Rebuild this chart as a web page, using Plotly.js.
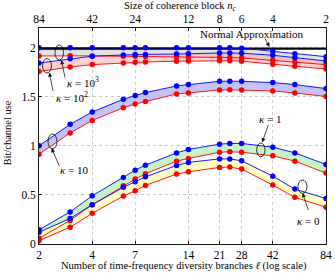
<!DOCTYPE html>
<html>
<head>
<meta charset="utf-8">
<script src="https://cdn.plot.ly/plotly-3.0.1.min.js"></script>
<style>html,body{margin:0;padding:0;background:#fff;}#chart{width:335px;height:273px;}</style>
</head>
<body>
<div id="chart"></div>
<script>
// number of diversity branches (x) and matching coherence block sizes
var ells = [2, 3, 4, 6, 7, 8, 12, 14, 21, 24, 28, 42, 56, 84];
var bottomTicks = [2, 4, 7, 14, 21, 28, 42, 84];
var bottomTickText = ['2', '4', '7', '14', '21', '28', '42', '84'];
var topTickText = ['84', '42', '24', '12', '8', '6', '4', '2'];

// upper (blue) and lower (red) bounds for each Rician factor kappa
var k1000Upper = [2.0, 2.0, 2.0, 2.0, 2.0, 2.0, 2.0, 2.0, 2.0, 2.0, 1.995, 1.962, 1.938, 1.908];
var k1000Lower = [1.915, 1.918, 1.916, 1.912, 1.911, 1.909, 1.905, 1.904, 1.9, 1.899, 1.895, 1.871, 1.853, 1.827];
var k100Upper = [1.843, 1.888, 1.913, 1.925, 1.929, 1.931, 1.935, 1.939, 1.945, 1.945, 1.943, 1.922, 1.898, 1.864];
var k100Lower = [1.756, 1.803, 1.827, 1.843, 1.85, 1.854, 1.862, 1.864, 1.866, 1.866, 1.862, 1.83, 1.81, 1.783];
var k10Upper = [1.0, 1.219, 1.345, 1.474, 1.512, 1.542, 1.61, 1.624, 1.657, 1.658, 1.657, 1.644, 1.624, 1.583];
var k10Lower = [0.915, 1.131, 1.258, 1.388, 1.425, 1.452, 1.528, 1.539, 1.569, 1.57, 1.569, 1.559, 1.539, 1.502];
var k1Upper = [0.145, 0.327, 0.491, 0.678, 0.752, 0.803, 0.928, 0.963, 1.017, 1.024, 1.024, 0.986, 0.928, 0.81];
var k1Lower = [0.058, 0.24, 0.4, 0.593, 0.661, 0.715, 0.844, 0.871, 0.935, 0.939, 0.935, 0.898, 0.844, 0.722];
var k0Upper = [0.12, 0.26, 0.4, 0.577, 0.634, 0.684, 0.8, 0.831, 0.867, 0.867, 0.847, 0.691, 0.559, 0.463];
var k0Lower = [0.034, 0.171, 0.312, 0.488, 0.542, 0.597, 0.712, 0.735, 0.78, 0.783, 0.763, 0.6, 0.475, 0.375];
var normalApprox = [1.99, 1.99, 1.99, 1.99, 1.99, 1.99, 1.99, 1.99, 1.99, 1.99, 1.99, 1.99, 1.99, 1.99];

var series = [
  {up: k1000Upper, lo: k1000Lower, fill: 'rgba(205,205,205,0.6)'},
  {up: k100Upper, lo: k100Lower, fill: 'rgba(255,170,170,0.55)'},
  {up: k10Upper, lo: k10Lower, fill: 'rgba(175,175,245,0.75)'},
  {up: k1Upper, lo: k1Lower, fill: 'rgba(180,240,180,0.75)'},
  {up: k0Upper, lo: k0Lower, fill: 'rgba(255,255,185,0.85)'}
];

var traces = [];
series.forEach(function (s) {
  traces.push({
    x: ells.concat(ells.slice().reverse()),
    y: s.up.concat(s.lo.slice().reverse()),
    type: 'scatter', mode: 'none', fill: 'toself', fillcolor: s.fill,
    hoverinfo: 'skip', showlegend: false
  });
});
traces.push({x: ells, y: normalApprox, type: 'scatter', mode: 'lines',
  line: {color: '#000', width: 2.4}, showlegend: false});
series.forEach(function (s) {
  traces.push({x: ells, y: s.lo, type: 'scatter', mode: 'lines+markers',
    line: {color: '#ff0000', width: 0.9}, marker: {color: '#ff0000', size: 5.5}, showlegend: false});
  traces.push({x: ells, y: s.up, type: 'scatter', mode: 'lines+markers',
    line: {color: '#0000ff', width: 0.9}, marker: {color: '#0000ff', size: 5.5}, showlegend: false});
});
// dummy trace to activate the top axis
traces.push({x: [2, 84], y: [0, 0], xaxis: 'x2', type: 'scatter', mode: 'none', hoverinfo: 'skip', showlegend: false});

var L = 39, R = 9, T = 28, B = 29, W = 335, H = 273;
var pw = W - L - R, ph = H - T - B;
function px(x) { return (x - L) / pw; }
function py(y) { return (H - B - y) / ph; }

var FONT = 'Liberation Serif, DejaVu Serif, serif';

function ellipse(x0, x1, y0, y1) {
  return {type: 'circle', xref: 'paper', yref: 'paper', x0: px(x0), x1: px(x1), y0: py(y1), y1: py(y0),
    line: {color: '#000', width: 0.8}, fillcolor: 'rgba(0,0,0,0)'};
}
function label(text, cx, cy, size, angle) {
  return {xref: 'paper', yref: 'paper', x: px(cx), y: py(cy), text: text, showarrow: false,
    xanchor: 'center', yanchor: 'middle', textangle: angle || 0,
    font: {family: FONT, size: size || 11, color: '#000'}};
}
// arrow = line shape + small triangular head (pixel geometry converted to paper units)
function arrowShapes(tx, ty, hx, hy) {
  var dx = hx - tx, dy = hy - ty, len = Math.sqrt(dx * dx + dy * dy);
  var ux = dx / len, uy = dy / len, nx = -uy, ny = ux;
  var hl = 3.6, hw = 1.7;
  var bx = hx - hl * ux, by = hy - hl * uy;
  var p1x = bx + hw * nx, p1y = by + hw * ny, p2x = bx - hw * nx, p2y = by - hw * ny;
  return [
    {type: 'line', xref: 'paper', yref: 'paper', x0: px(tx), y0: py(ty), x1: px(bx), y1: py(by),
      line: {color: '#000', width: 0.7}},
    {type: 'path', xref: 'paper', yref: 'paper',
      path: 'M ' + px(hx) + ' ' + py(hy) + ' L ' + px(p1x) + ' ' + py(p1y) + ' L ' + px(p2x) + ' ' + py(p2y) + ' Z',
      fillcolor: '#000', line: {color: '#000', width: 0.4}}
  ];
}

var shapes = [
  ellipse(55, 63.5, 45, 60),
  ellipse(42.5, 51.5, 58.5, 73),
  ellipse(48, 57, 134, 149),
  ellipse(256.7, 265, 143, 156.7),
  ellipse(298, 307, 180, 193.3)
];
[[65, 77.5, 61.5, 60.5], [53, 91, 49.5, 73], [59.3, 166, 51.7, 148.5],
 [268.3, 125, 262.3, 142], [308.3, 210, 302.7, 193.5], [265, 38.5, 269.3, 46.5]].forEach(function (a) {
  shapes = shapes.concat(arrowShapes(a[0], a[1], a[2], a[3]));
});

var layout = {
  width: W, height: H,
  margin: {l: L, r: R, t: T, b: B, pad: 0},
  paper_bgcolor: '#fff', plot_bgcolor: '#fff',
  font: {family: FONT, size: 12, color: '#000'},
  xaxis: {
    type: 'log', range: [Math.log10(2), Math.log10(84)],
    tickvals: bottomTicks, ticktext: bottomTickText,
    showgrid: true, gridcolor: '#b5b5b5', gridwidth: 0.7, griddash: 'dot',
    showline: true, linecolor: '#000', linewidth: 0.9,
    ticks: 'inside', ticklen: 3, tickcolor: '#000', zeroline: false,
    tickfont: {family: FONT, size: 11.5}
  },
  xaxis2: {
    type: 'log', range: [Math.log10(2), Math.log10(84)], overlaying: 'x', side: 'top',
    tickvals: bottomTicks, ticktext: topTickText,
    showgrid: false, showline: true, linecolor: '#000', linewidth: 0.9,
    ticks: 'inside', ticklen: 3, tickcolor: '#000', zeroline: false,
    tickfont: {family: FONT, size: 11.5}
  },
  yaxis: {
    range: [0, 2.2], tickvals: [0, 0.5, 1, 1.5, 2], ticktext: ['0', '0.5', '1', '1.5', '2'],
    showgrid: true, gridcolor: '#b5b5b5', gridwidth: 0.7, griddash: 'dot',
    showline: true, linecolor: '#000', linewidth: 0.9, mirror: true,
    ticks: 'inside', ticklen: 3, tickcolor: '#000', zeroline: false,
    tickfont: {family: FONT, size: 11.5}
  },
  shapes: shapes,
  annotations: [
    label('Number of time-frequency diversity branches <i>ℓ</i> (log scale)', 183.5, 265.5, 10.5),
    label('Size of coherence block <i>n<sub>c</sub></i>', 180, 7, 10.5),
    label('Bit/channel use', 6.5, 133, 10.5, -90),
    label('<i>κ</i> = 10<sup>3</sup>', 83.3, 81.5),
    label('<i>κ</i> = 10<sup>2</sup>', 71.7, 96.5),
    label('<i>κ</i> = 10', 74.3, 170),
    label('<i>κ</i> = 1', 270, 118.7),
    label('<i>κ</i> = 0', 308.3, 220.5),
    label('Normal Approximation', 251, 34.3)
  ]
};

Plotly.newPlot('chart', traces, layout, {displayModeBar: false, staticPlot: true});
</script>
</body>
</html>
